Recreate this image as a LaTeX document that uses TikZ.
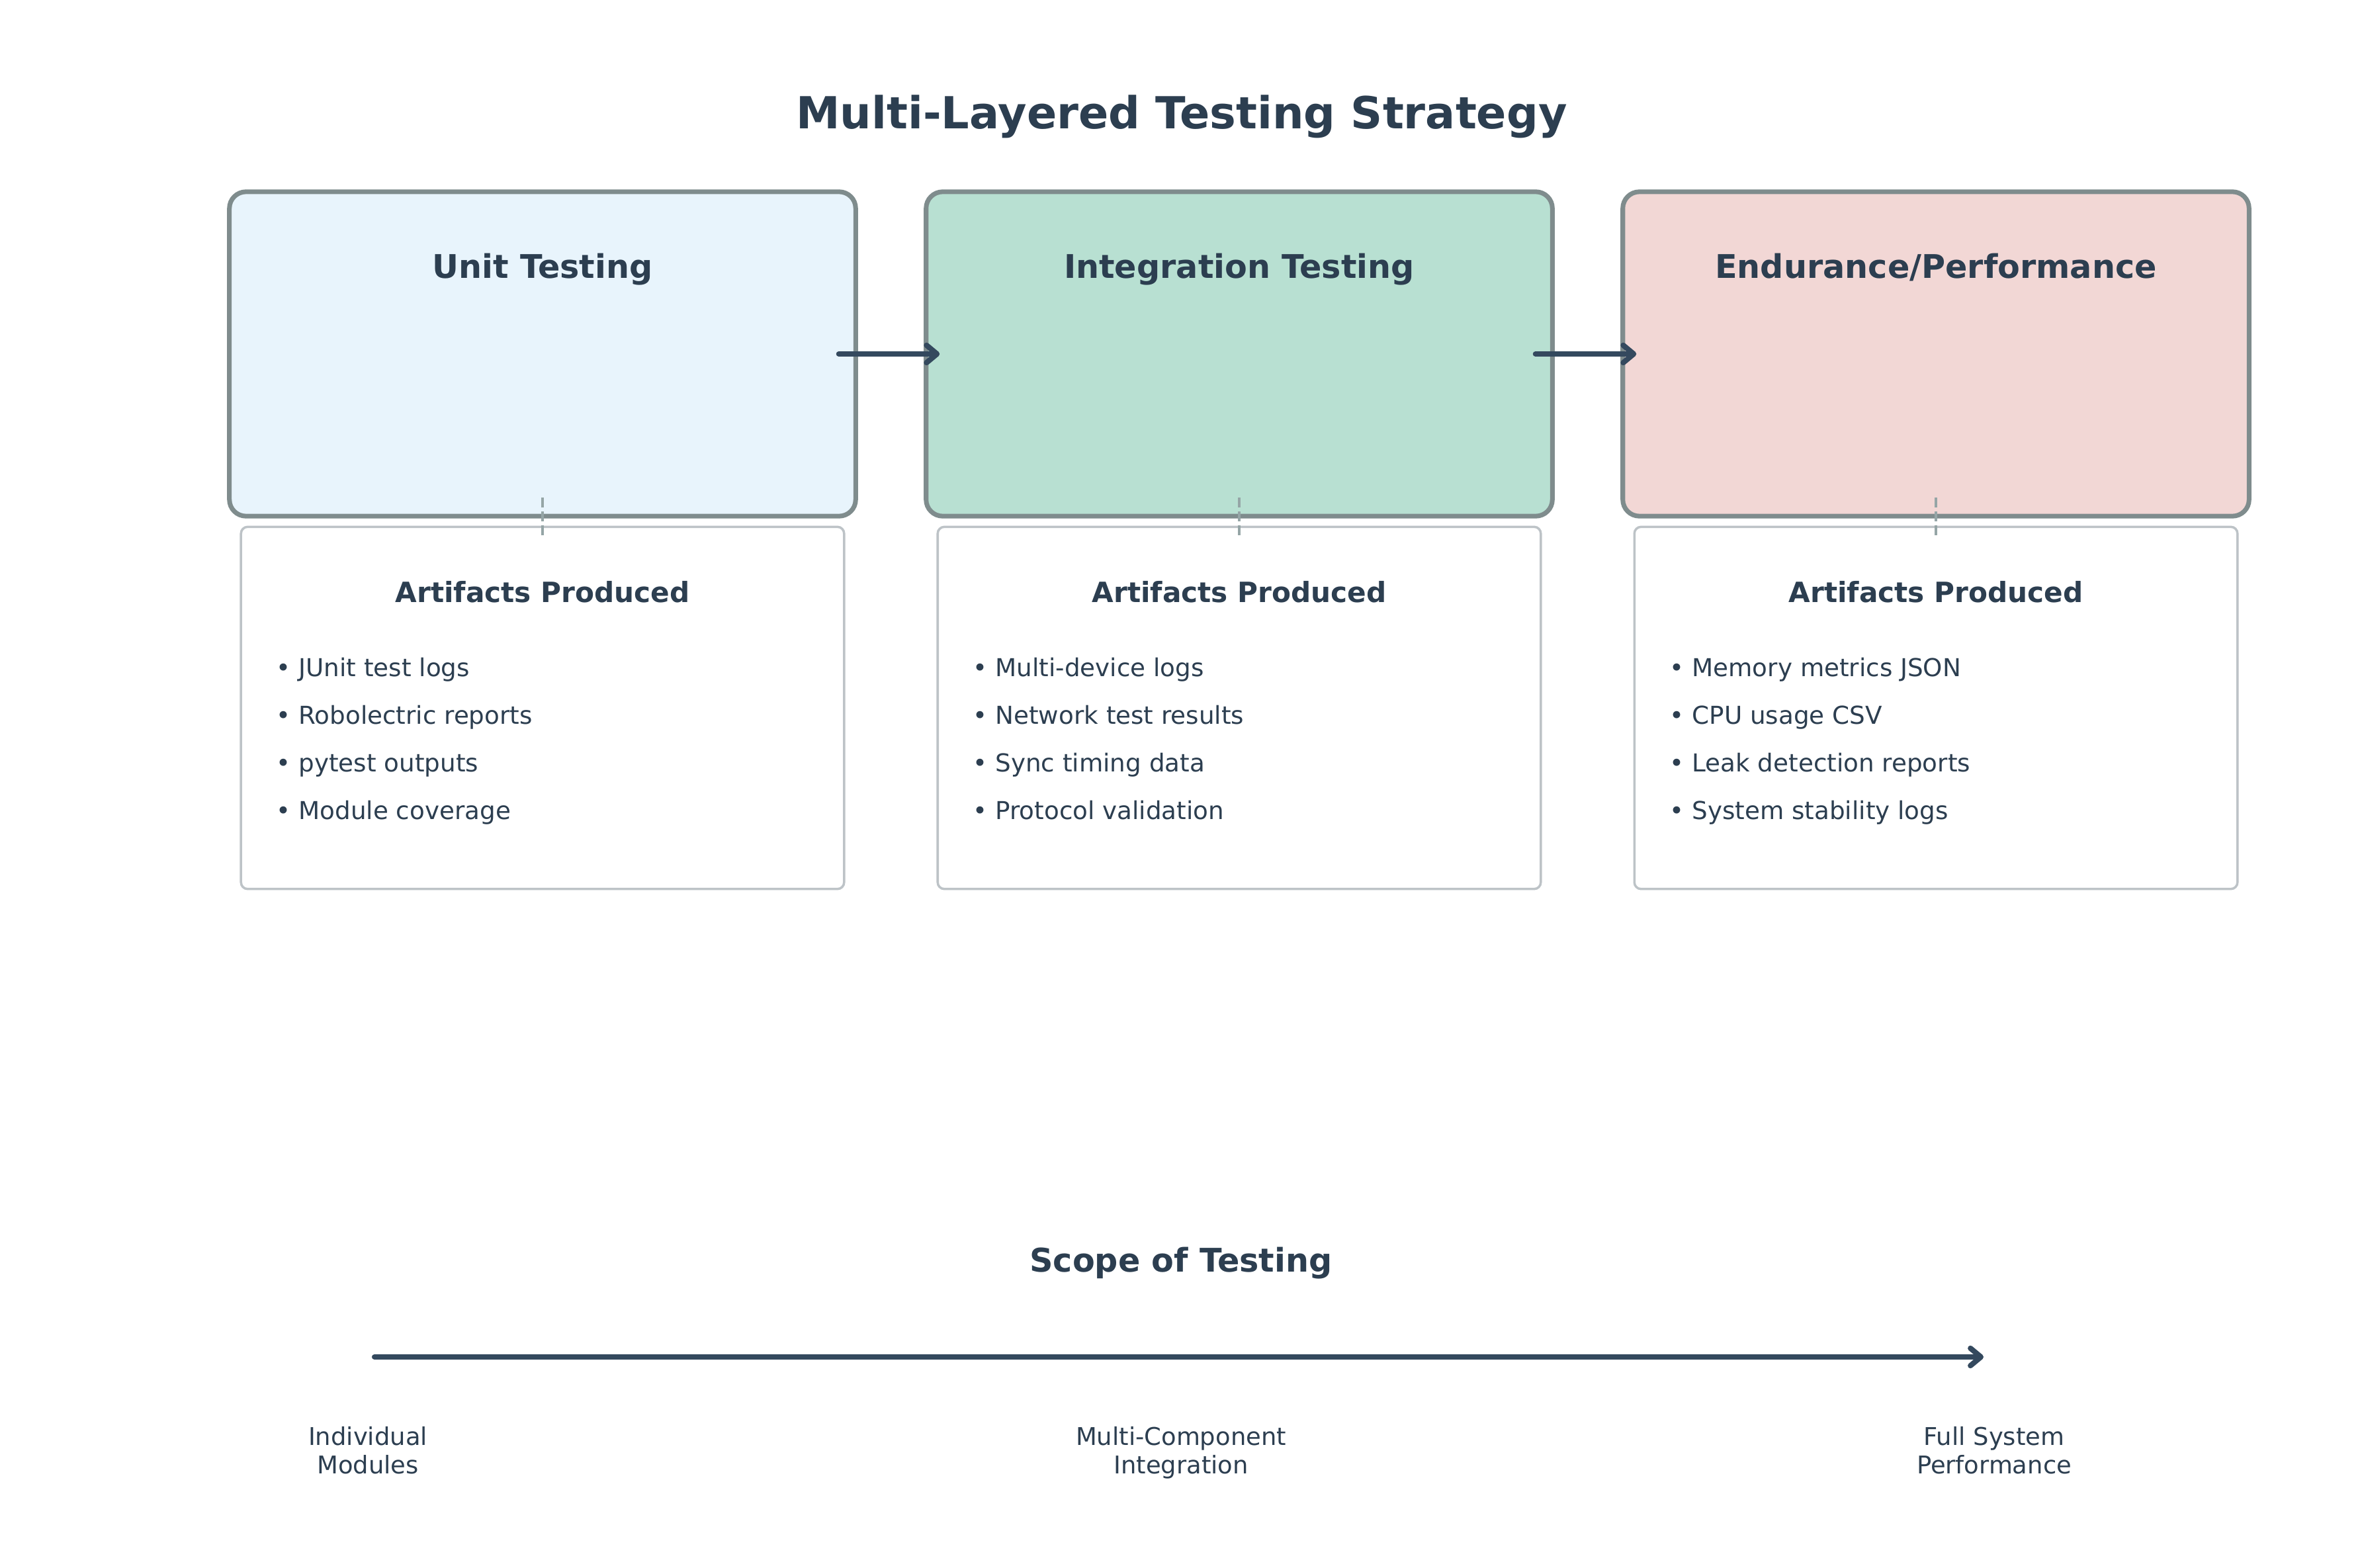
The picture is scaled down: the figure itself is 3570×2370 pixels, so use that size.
\documentclass[tikz,border=0pt]{standalone}
\usepackage{fontspec}
\setmainfont{DejaVu Sans}
\usepackage{tikz}
\usetikzlibrary{arrows.meta}

\definecolor{ink}{HTML}{2C3E50}
\definecolor{arrowc}{HTML}{34495E}
\definecolor{boxedge}{HTML}{7F8C8D}
\definecolor{artedge}{HTML}{BDC3C7}
\definecolor{dashc}{HTML}{95A5A6}
\definecolor{unitfill}{HTML}{E8F4FC}
\definecolor{integfill}{HTML}{B8E0D2}
\definecolor{endurfill}{HTML}{F2D7D5}

\tikzset{
	stagebox/.style={draw=boxedge, line width=2pt, rounded corners=0.25cm, minimum width=9.46cm, minimum height=4.9cm, inner sep=0pt},
	stagetitle/.style={font=\fontsize{14}{17}\selectfont\bfseries, text=ink, anchor=base, inner sep=0pt},
	artbox/.style={draw=artedge, fill=white, line width=1pt, rounded corners=0.1cm, minimum width=9.11cm, minimum height=5.47cm, inner sep=0pt},
	arthead/.style={font=\fontsize{12}{14}\selectfont\bfseries, text=ink, anchor=base, inner sep=0pt},
	artitem/.style={font=\fontsize{10.6}{13}\selectfont, text=ink, anchor=base west, inner sep=0pt},
	flow/.style={draw=arrowc, line width=2.3pt, line cap=round, -{Straight Barb[length=4.5pt, width=7.5pt, round]}},
	dashlink/.style={draw=dashc, line width=1pt, dash pattern=on 4.3pt off 1.7pt},
	scopelbl/.style={font=\fontsize{10.5}{12}\selectfont, text=ink, align=center, anchor=base, inner sep=0pt},
}

\begin{document}
\begin{tikzpicture}[x=0.01cm, y=-0.01cm]
		%%%%% START %%%%%
		\useasboundingbox[fill=white] (0, 0) rectangle (3570, 2370);
		
		\node[font=\fontsize{19}{23}\selectfont\bfseries, text=ink, anchor=base, inner sep=0pt] (title) at (1786, 195) {Multi-Layered Testing Strategy};
		
		% stages
		\node[stagebox, fill=unitfill] (unit) at (820, 535) {};
		\node[stagebox, fill=integfill] (integ) at (1873, 535) {};
		\node[stagebox, fill=endurfill] (endur) at (2926, 535) {};
		
		\node[stagetitle] (unitT) at (820, 421) {Unit Testing};
		\node[stagetitle] (integT) at (1873, 421) {Integration Testing};
		\node[stagetitle] (endurT) at (2926, 421) {Endurance/Performance};
		
		\draw[flow] ([xshift=-0.29cm]unit.east) -- ([xshift=0.24cm]integ.west);
		\draw[flow] ([xshift=-0.29cm]integ.east) -- ([xshift=0.24cm]endur.west);
		
		% artifacts
		\node[artbox] (unitA) at (820, 1070) {};
		\node[artbox] (integA) at (1873, 1070) {};
		\node[artbox] (endurA) at (2926, 1070) {};
		
		\draw[dashlink] ([yshift=0.315cm]unit.south) -- ([yshift=-0.14cm]unitA.north);
		\draw[dashlink] ([yshift=0.315cm]integ.south) -- ([yshift=-0.14cm]integA.north);
		\draw[dashlink] ([yshift=0.315cm]endur.south) -- ([yshift=-0.14cm]endurA.north);
		
		\node[arthead] (unitH) at (820, 910) {Artifacts Produced};
		\node[artitem] (unitI1) at (417, 1022) {• JUnit test logs};
		\node[artitem] (unitI2) at (417, 1094) {• Robolectric reports};
		\node[artitem] (unitI3) at (417, 1166) {• pytest outputs};
		\node[artitem] (unitI4) at (417, 1238) {• Module coverage};
		
		\node[arthead] (integH) at (1873, 910) {Artifacts Produced};
		\node[artitem] (integI1) at (1470, 1022) {• Multi-device logs};
		\node[artitem] (integI2) at (1470, 1094) {• Network test results};
		\node[artitem] (integI3) at (1470, 1166) {• Sync timing data};
		\node[artitem] (integI4) at (1470, 1238) {• Protocol validation};
		
		\node[arthead] (endurH) at (2926, 910) {Artifacts Produced};
		\node[artitem] (endurI1) at (2523, 1022) {• Memory metrics JSON};
		\node[artitem] (endurI2) at (2523, 1094) {• CPU usage CSV};
		\node[artitem] (endurI3) at (2523, 1166) {• Leak detection reports};
		\node[artitem] (endurI4) at (2523, 1238) {• System stability logs};
		
		% scope axis
		\node[font=\fontsize{14}{17}\selectfont\bfseries, text=ink, anchor=base, inner sep=0pt] (scope) at (1785, 1922) {Scope of Testing};
		\coordinate (scopeL) at (566, 2051);
		\coordinate (scopeR) at (2998, 2051);
		\draw[flow] (scopeL) -- (scopeR);
		
		\node[scopelbl] (lowL) at (556, 2227) {Individual\\Modules};
		\node[scopelbl] (lowM) at (1785, 2227) {Multi-Component\\Integration};
		\node[scopelbl] (lowR) at (3014, 2227) {Full System\\Performance};
		
		%%%%% END %%%%%
	\end{tikzpicture}
\end{document}
